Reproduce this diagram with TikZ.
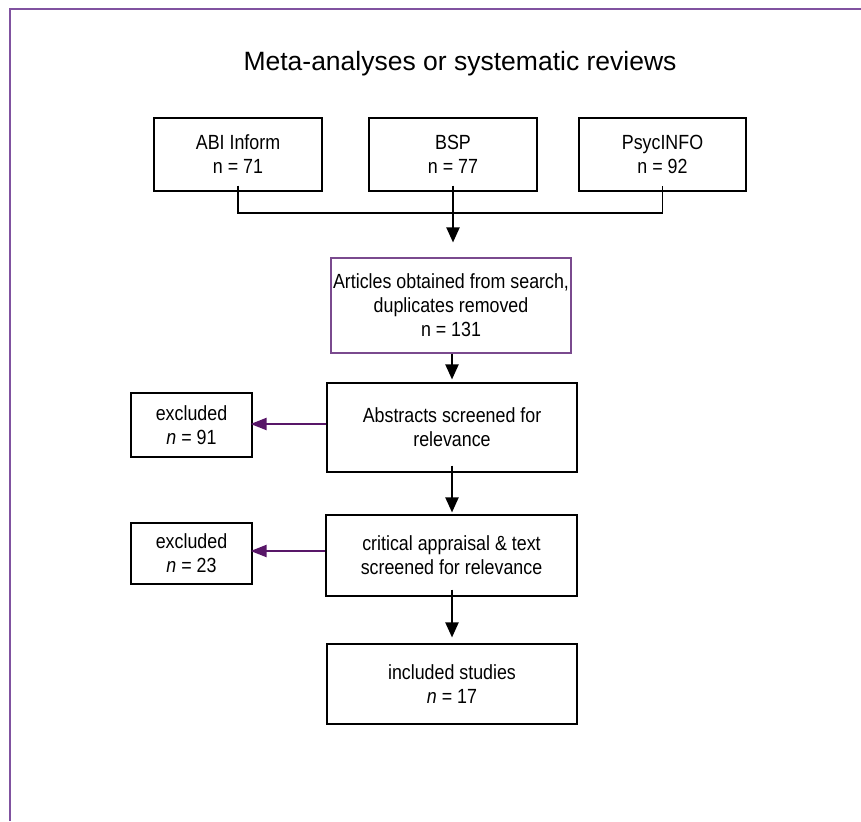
\documentclass[tikz,border=0pt]{standalone}
\usepackage{fontspec}
\setmainfont{Liberation Sans}
\newfontfamily\narrowfont[FakeStretch=0.87]{Liberation Sans}
\usetikzlibrary{arrows.meta}
\definecolor{framepurple}{RGB}{128,82,160}
\definecolor{boxpurple}{RGB}{122,74,142}
\definecolor{droppurple}{RGB}{88,22,104}

\begin{document}
\begin{tikzpicture}[x=1pt, y=-1pt,
  every node/.style={font=\narrowfont\fontsize{20.5}{24}\selectfont, align=center},
  stage/.style={draw, line width=1.1pt, inner sep=0pt},
  flow/.style={line width=2pt, -{Triangle[length=15pt,width=13pt]}},
  drop/.style={droppurple, line width=2pt, -{Triangle[length=16pt,width=12pt]}}]

\useasboundingbox (0,0) rectangle (861,821);

% ============================
% Page frame (cut at right and bottom)
% ============================
\coordinate (fTL) at (9.5,9.5);
\draw[framepurple, line width=2pt] (9.5,821) -- (fTL) -- (861,9.5);

% ============================
% Title
% ============================
\node[font=\fontsize{26.5}{32}\selectfont, anchor=base] (title) at (460,71)
  {Meta-analyses or systematic reviews};

% ============================
% Databases
% ============================
\node[stage, minimum width=168pt, minimum height=73pt] (abi)  at (238,154.5)
  {ABI Inform\\n = 71};
\node[stage, minimum width=168pt, minimum height=73pt] (bsp)  at (453,154.5)
  {BSP\\n = 77};
\node[stage, minimum width=167pt, minimum height=73pt] (psyc) at (662.5,154.5)
  {PsycINFO\\n = 92};

% bracket joining the three searches
\coordinate (join) at (453,213);
\draw[line width=1.5pt] ([yshift=6pt]abi.south) |- (join) -| ([yshift=6pt]psyc.south);

% ============================
% Screening chain
% ============================
\node[stage, draw=boxpurple, minimum width=240pt, minimum height=95pt] (art) at (451,305.5)
  {Articles obtained from search,\\duplicates removed\\n = 131};
\node[stage, minimum width=250pt, minimum height=89pt] (abs) at (452,427.5)
  {Abstracts screened for\\relevance};
\node[stage, minimum width=251pt, minimum height=81pt] (crit) at (451.5,555.5)
  {critical appraisal \& text\\screened for relevance};
\node[stage, minimum width=250pt, minimum height=80pt] (inc) at (452,684)
  {included studies\\\textit{n} = 17};

% ============================
% Exclusions
% ============================
\node[stage, minimum width=121pt, minimum height=64pt] (exc1) at (191.5,425)
  {excluded\\\textit{n} = 91};
\node[stage, minimum width=121pt, minimum height=61pt] (exc2) at (191.5,553.5)
  {excluded\\\textit{n} = 23};

% ============================
% Arrows
% ============================
\draw[flow] ([yshift=6pt]bsp.south) -- ([yshift=15pt]bsp.south |- art.north);
\draw[flow, shorten >=3pt] (abs.north |- art.south) -- (abs.north);
\draw[flow, shorten >=2pt] ([yshift=7pt]abs.south) -- (abs.south |- crit.north);
\draw[flow, shorten >=6pt] ([yshift=7pt]abs.south |- crit.south) -- (abs.south |- inc.north);

\coordinate (cut1) at (0,424);
\coordinate (cut2) at (0,551);
\draw[drop, shorten >=-2pt] (abs.west |- cut1) -- (exc1.east |- cut1);
\draw[drop, shorten >=-2pt] (crit.west |- cut2) -- (exc2.east |- cut2);

\end{tikzpicture}
\end{document}
